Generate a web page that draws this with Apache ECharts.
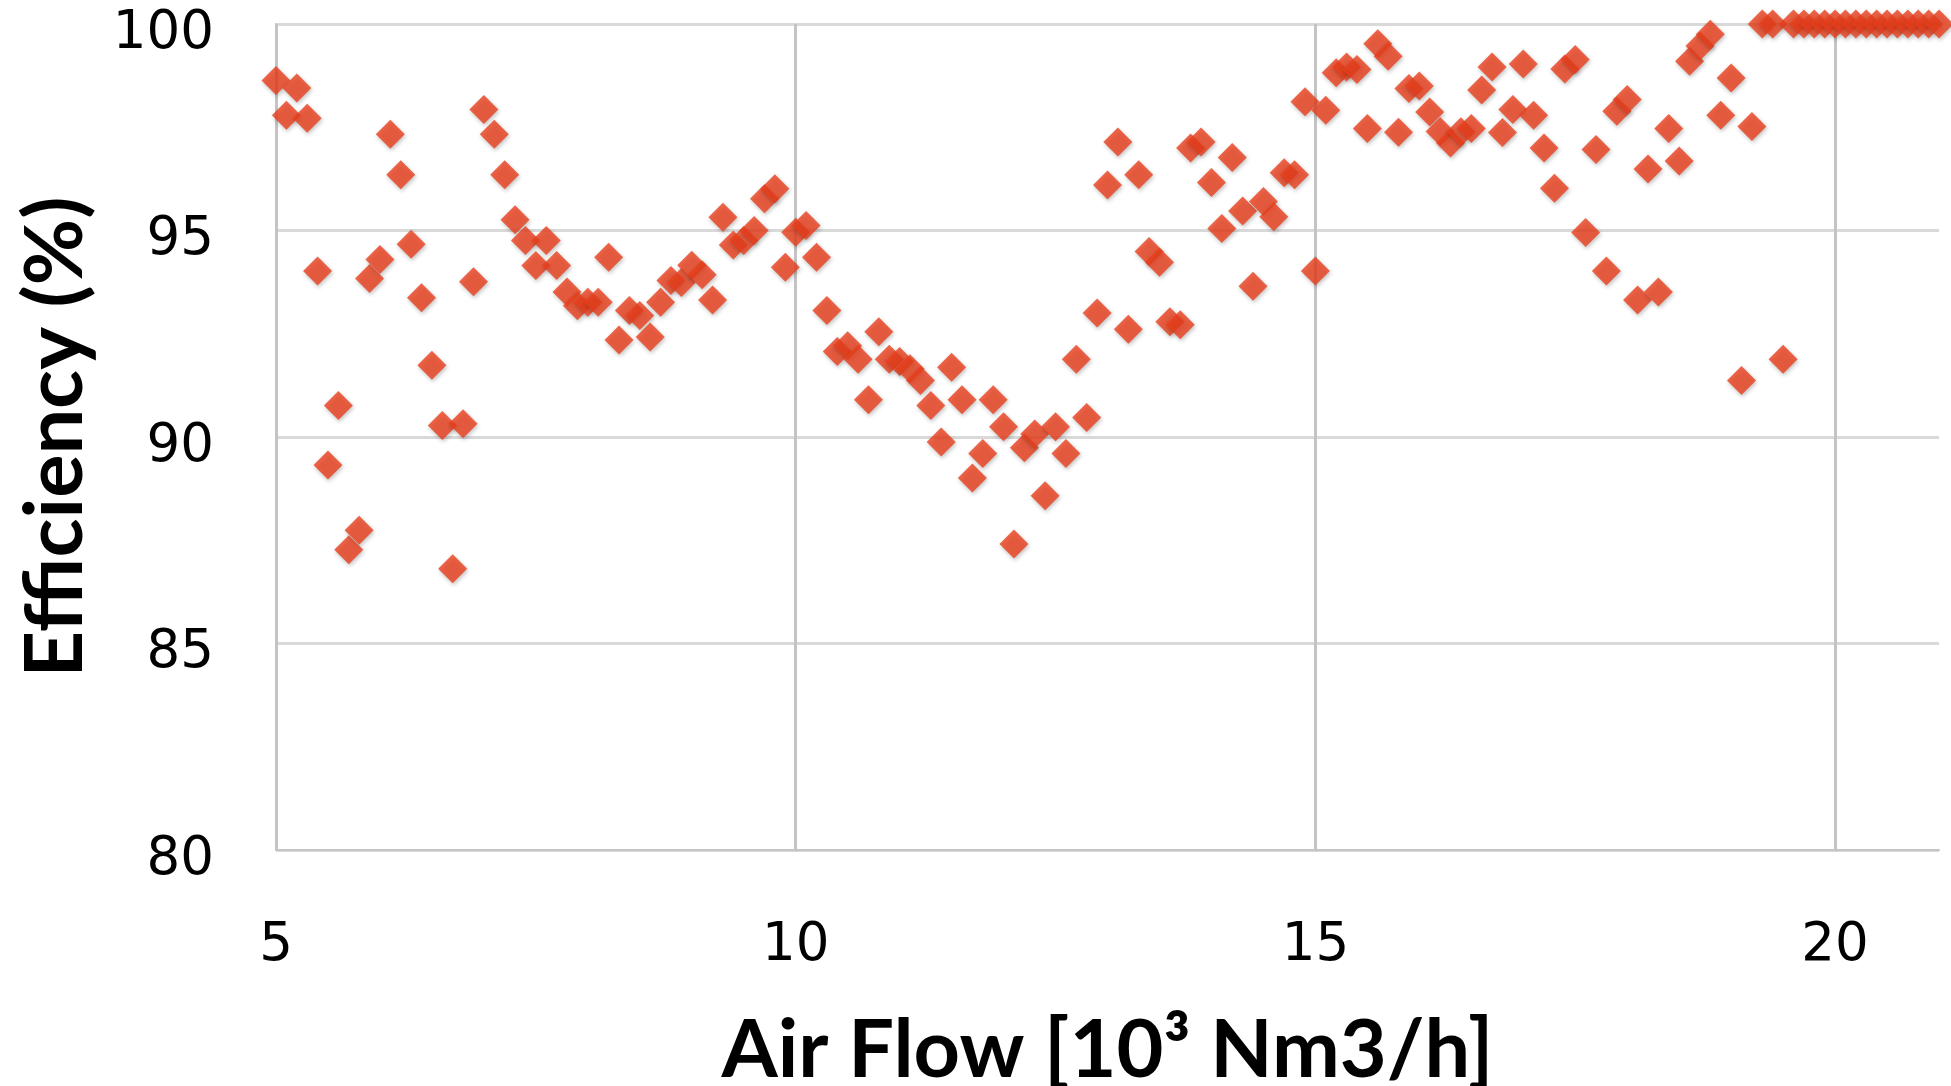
<!DOCTYPE html>
<html>
<head>
<meta charset="utf-8">
<title>Efficiency vs Air Flow</title>
<script src="https://cdn.jsdelivr.net/npm/echarts@6/dist/echarts.min.js"></script>
<style>
  html, body { margin: 0; padding: 0; background: #fff; }
  #chart { width: 1951px; height: 1086px; }
</style>
</head>
<body>
<div id="chart"></div>
<script>
// air flow [10^3 Nm3/h]
var airFlow = [
  5.0, 5.1, 5.2, 5.3, 5.4, 5.5, 5.6, 5.7, 5.8, 5.9,
  6.0, 6.1, 6.2, 6.3, 6.4, 6.5, 6.6, 6.7, 6.8, 6.9,
  7.0, 7.1, 7.2, 7.3, 7.4, 7.5, 7.6, 7.7, 7.8, 7.9,
  8.0, 8.1, 8.2, 8.3, 8.4, 8.5, 8.6, 8.7, 8.8, 8.9,
  9.0, 9.1, 9.2, 9.3, 9.4, 9.5, 9.6, 9.7, 9.8, 9.9,
  10.0, 10.1, 10.2, 10.3, 10.4, 10.5, 10.6, 10.7, 10.8, 10.9,
  11.0, 11.1, 11.2, 11.3, 11.4, 11.5, 11.6, 11.7, 11.8, 11.9,
  12.0, 12.1, 12.2, 12.3, 12.4, 12.5, 12.6, 12.7, 12.8, 12.9,
  13.0, 13.1, 13.2, 13.3, 13.4, 13.5, 13.6, 13.7, 13.8, 13.9,
  14.0, 14.1, 14.2, 14.3, 14.4, 14.5, 14.6, 14.7, 14.8, 14.9,
  15.0, 15.1, 15.2, 15.3, 15.4, 15.5, 15.6, 15.7, 15.8, 15.9,
  16.0, 16.1, 16.2, 16.3, 16.4, 16.5, 16.6, 16.7, 16.8, 16.9,
  17.0, 17.1, 17.2, 17.3, 17.4, 17.5, 17.6, 17.7, 17.8, 17.9,
  18.0, 18.1, 18.2, 18.3, 18.4, 18.5, 18.6, 18.7, 18.8, 18.9,
  19.0, 19.1, 19.2, 19.3, 19.4, 19.5, 19.6, 19.7, 19.8, 19.9,
  20.0, 20.1, 20.2, 20.3, 20.4, 20.5, 20.6, 20.7, 20.8, 20.9,
  21.0
]

// efficiency (%)
var efficiency = [
  98.63, 97.79, 98.45, 97.72, 94.02, 89.32, 90.76, 87.27, 87.74, 93.84,
  94.30, 97.33, 96.35, 94.67, 93.37, 91.74, 90.28, 86.81, 90.32, 93.76,
  97.93, 97.33, 96.35, 95.26, 94.76, 94.15, 94.76, 94.15, 93.51, 93.18,
  93.26, 93.26, 94.35, 92.35, 93.06, 92.94, 92.42, 93.26, 93.79, 93.74,
  94.16, 93.93, 93.32, 95.32, 94.65, 94.76, 95.00, 95.77, 96.01, 94.11,
  94.96, 95.12, 94.35, 93.06, 92.07, 92.21, 91.88, 90.90, 92.55, 91.88,
  91.83, 91.65, 91.37, 90.76, 89.88, 91.69, 90.90, 89.01, 89.60, 90.90,
  90.25, 87.41, 89.74, 90.07, 88.58, 90.25, 89.60, 91.88, 90.47, 93.00,
  96.10, 97.14, 92.61, 96.35, 94.49, 94.23, 92.79, 92.72, 97.00, 97.14,
  96.16, 95.05, 96.77, 95.47, 93.65, 95.70, 95.33, 96.40, 96.35, 98.12,
  94.02, 97.91, 98.82, 98.96, 98.90, 97.47, 99.52, 99.22, 97.38, 98.44,
  98.50, 97.87, 97.40, 97.12, 97.39, 97.47, 98.40, 98.96, 97.37, 97.93,
  99.03, 97.79, 97.00, 96.02, 98.91, 99.14, 94.95, 96.96, 94.02, 97.89,
  98.17, 93.32, 96.49, 93.51, 97.47, 96.68, 99.10, 99.47, 99.75, 97.79,
  98.69, 91.37, 97.52, 100, 100, 91.88, 100, 100, 100, 100,
  100, 100, 100, 100, 100, 100, 100, 100, 100, 100,
  100
]

var xTicks = [5, 10, 15, 20]
var yTicks = [80, 85, 90, 95, 100]

var chart = echarts.init(document.getElementById('chart'))

chart.setOption({
  animation: false,
  backgroundColor: '#ffffff',
  grid: {
    left: 276,
    right: 12,
    top: 24,
    bottom: 236,
    outerBoundsMode: 'none'
  },
  xAxis: {
    type: 'value',
    min: xTicks[0],
    max: 21,
    interval: xTicks[1] - xTicks[0],
    name: 'Air Flow [10³ Nm3/h]',
    nameLocation: 'middle',
    nameGap: 160,
    nameTextStyle: {
      fontFamily: 'Lato',
      fontWeight: 'bold',
      fontSize: 81,
      color: '#000'
    },
    axisLine: {
      show: true,
      lineStyle: { color: '#c4c4c4', width: 2 }
    },
    axisTick: { show: false },
    axisLabel: {
      margin: 70,
      fontFamily: 'DejaVu Sans',
      fontSize: 53,
      color: '#000',
      formatter: function (v) {
        return xTicks.indexOf(v) >= 0 ? String(v) : ''
      }
    },
    splitLine: {
      show: true,
      showMaxLine: false,
      lineStyle: { color: '#c4c4c4', width: 3 }
    }
  },
  yAxis: {
    type: 'value',
    min: yTicks[0],
    max: yTicks[yTicks.length - 1],
    interval: yTicks[1] - yTicks[0],
    name: 'Efficiency (%)',
    nameLocation: 'middle',
    nameRotate: 90,
    nameGap: 180,
    nameTextStyle: {
      fontFamily: 'Lato',
      fontWeight: 'bold',
      fontSize: 81,
      color: '#000'
    },
    axisLine: {
      show: true,
      lineStyle: { color: '#c4c4c4', width: 2 }
    },
    axisTick: { show: false },
    axisLabel: {
      margin: 62,
      formatter: function (v) {
        return '{t|' + v + '}'
      },
      rich: {
        t: {
          padding: [20, 0, 0, 0],
          fontFamily: 'DejaVu Sans',
          fontSize: 53,
          color: '#000'
        }
      }
    },
    splitLine: {
      show: true,
      lineStyle: { color: '#d9d9d9', width: 3 }
    }
  },
  series: [
    {
      type: 'scatter',
      clip: false,
      symbol: 'diamond',
      symbolSize: 29,
      itemStyle: {
        color: '#EA3F1C',
        shadowColor: 'rgba(0, 0, 0, 0.3)',
        shadowBlur: 4,
        shadowOffsetX: 1,
        shadowOffsetY: 2
      },
      data: airFlow.map(function (x, i) {
        return [x, efficiency[i]]
      })
    }
  ]
})
</script>
</body>
</html>
